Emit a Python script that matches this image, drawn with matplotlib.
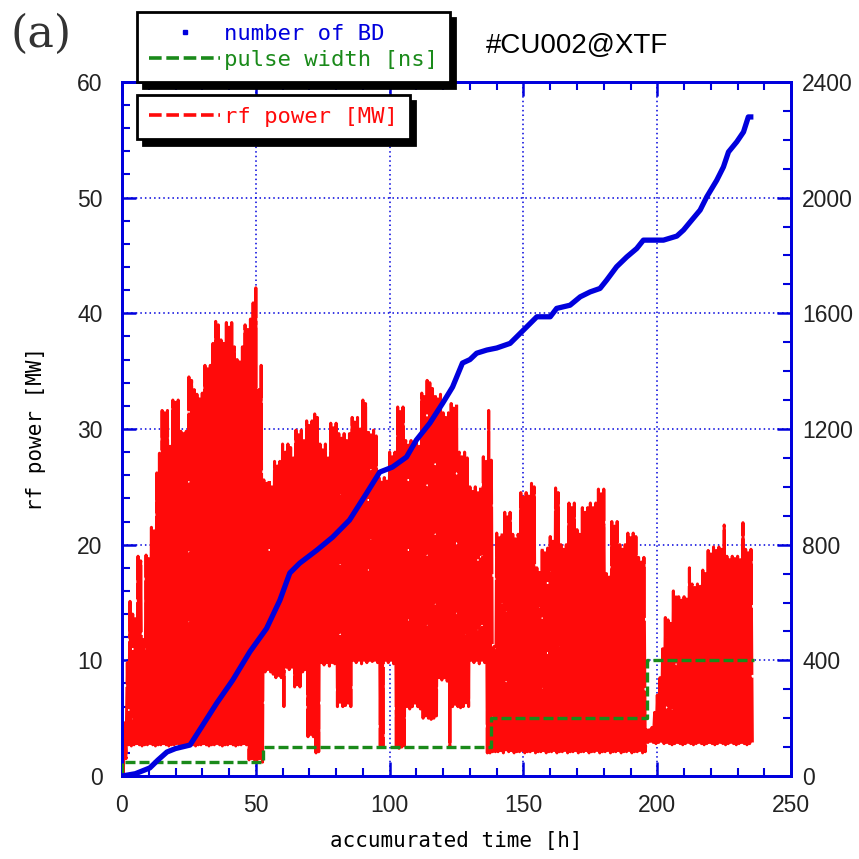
import matplotlib
matplotlib.use("Agg")
import matplotlib.pyplot as plt
from matplotlib.lines import Line2D
from matplotlib.ticker import MultipleLocator
import numpy as np

# rf power trace, hourly upper / lower level [MW]
rf_peak = [
    4.6, 4.6, 9.8, 15.1, 14.0, 13.6, 19.0, 18.6, 11.8, 19.1,
    18.8, 21.5, 21.2, 26.2, 27.9, 31.6, 31.4, 31.6, 28.5, 32.5,
    32.3, 32.5, 29.8, 29.6, 29.8, 34.5, 34.2, 33.4, 33.0, 32.6,
    33.1, 35.5, 35.2, 35.5, 37.4, 39.3, 39.0, 37.7, 37.4, 39.2,
    38.8, 39.2, 37.1, 36.0, 35.8, 37.1, 39.0, 38.6, 39.5, 40.9,
    42.2, 33.4, 35.5, 25.6, 25.3, 25.6, 25.0, 27.2, 26.8, 27.2,
    28.7, 28.0, 28.7, 28.4, 27.5, 29.9, 29.5, 29.9, 29.0, 30.7,
    30.3, 30.7, 31.3, 31.0, 28.7, 28.2, 28.7, 27.5, 30.5, 30.1,
    30.5, 29.6, 29.2, 29.6, 29.0, 29.6, 31.0, 30.6, 31.0, 30.0,
    32.5, 32.2, 29.9, 29.5, 29.9, 29.4, 25.8, 25.4, 25.8, 25.5,
    28.0, 27.6, 28.0, 31.9, 31.5, 31.9, 29.0, 28.6, 29.0, 28.7,
    29.0, 28.5, 33.1, 32.8, 34.2, 34.0, 33.5, 33.0, 32.6, 33.0,
    31.4, 31.0, 31.4, 32.2, 31.8, 32.2, 28.0, 27.6, 28.0, 27.5,
    25.0, 24.6, 25.0, 24.7, 25.0, 27.6, 27.2, 31.6, 27.3, 11.2,
    21.0, 20.6, 21.0, 22.8, 22.4, 22.8, 20.9, 20.5, 20.9, 24.5,
    24.1, 24.5, 24.2, 25.3, 25.0, 18.0, 17.6, 19.7, 19.3, 19.7,
    20.7, 20.3, 24.9, 24.5, 20.0, 19.6, 20.0, 23.6, 23.2, 23.6,
    21.3, 20.9, 23.2, 22.8, 23.2, 23.6, 23.2, 23.6, 24.8, 24.4,
    24.8, 17.5, 17.2, 22.0, 21.6, 22.0, 20.0, 19.6, 20.0, 21.0,
    20.6, 21.0, 20.7, 18.9, 18.5, 18.9, 4.0, 4.0, 4.2, 5.5,
    7.0, 8.5, 11.0, 13.7, 13.5, 13.2, 16.0, 15.7, 15.5, 15.2,
    15.5, 15.3, 18.0, 16.6, 16.3, 16.6, 16.4, 17.8, 17.5, 19.5,
    19.2, 19.8, 19.5, 19.8, 19.6, 21.7, 19.0, 18.7, 19.0, 18.8,
    19.0, 18.7, 21.9, 19.6, 19.3, 19.6,
]
rf_floor = [
    0.3, 1.5, 2.7, 2.6, 2.7, 2.8, 2.7, 2.6, 2.7, 2.7,
    2.8, 2.7, 2.6, 2.7, 2.7, 2.8, 2.7, 2.6, 2.7, 2.7,
    2.8, 2.7, 2.6, 2.7, 2.7, 2.8, 2.7, 2.6, 2.7, 2.7,
    2.8, 2.7, 2.6, 2.7, 2.7, 2.8, 2.7, 2.6, 2.7, 2.7,
    2.8, 2.7, 2.6, 2.7, 2.7, 2.8, 2.7, 1.4, 1.5, 1.4,
    1.4, 1.5, 1.2, 9.0, 9.2, 9.0, 8.8, 8.5, 8.7, 8.5,
    6.0, 9.4, 9.2, 9.4, 7.7, 7.9, 7.7, 9.0, 9.2, 3.4,
    3.6, 3.4, 2.0, 2.1, 9.8, 9.6, 9.8, 9.5, 9.8, 9.7,
    6.0, 6.2, 6.0, 6.1, 6.3, 6.0, 10.0, 9.8, 10.0, 9.7,
    10.0, 9.8, 10.0, 9.9, 10.0, 9.8, 2.5, 2.6, 10.0, 9.8,
    10.0, 9.7, 2.5, 2.4, 2.5, 2.6, 6.0, 5.8, 6.0, 6.3,
    6.0, 5.8, 5.0, 5.2, 5.0, 4.9, 5.0, 5.2, 8.5, 8.3,
    8.5, 8.2, 2.5, 6.0, 6.2, 6.0, 5.9, 6.0, 6.2, 6.0,
    10.0, 9.8, 10.0, 9.7, 10.0, 9.8, 2.0, 2.0, 2.1, 2.1,
    2.1, 2.2, 2.0, 2.1, 2.1, 2.2, 2.0, 2.1, 2.1, 2.2,
    2.0, 2.1, 2.1, 2.2, 2.0, 2.1, 2.1, 2.2, 2.0, 2.1,
    2.1, 2.2, 2.0, 2.1, 2.1, 2.2, 2.0, 2.1, 2.1, 2.2,
    2.0, 2.1, 2.1, 2.2, 2.0, 2.1, 2.1, 2.2, 2.0, 2.1,
    2.1, 2.2, 2.0, 2.1, 2.1, 2.2, 2.0, 2.1, 2.1, 2.2,
    2.0, 2.1, 2.1, 2.2, 2.0, 2.1, 2.9, 3.0, 2.9, 2.8,
    2.9, 3.0, 2.8, 2.9, 2.8, 2.7, 2.8, 2.9, 2.8, 2.7,
    2.8, 2.9, 2.8, 2.7, 2.8, 2.9, 2.8, 2.7, 2.8, 2.9,
    2.8, 2.7, 2.8, 2.9, 2.8, 2.7, 2.8, 2.9, 2.8, 2.7,
    2.8, 2.9, 2.8, 2.7, 2.8, 2.9,
]

# cumulative number of breakdowns
bd_time = [0, 5, 10.4, 13.4, 16.8, 20, 25.4, 29, 35.4, 41.4, 47.8, 54, 59, 62.7,
           66.4, 72.8, 78.7, 85, 91.4, 96.3, 101, 106.3, 110, 115, 119.8, 123.5,
           127.2, 130, 132.5, 136.3, 140, 145, 148.7, 152.5, 155, 160, 162.4,
           167.4, 171.2, 174.9, 178.6, 181.1, 184.8, 188.6, 192.3, 194.8, 202.3,
           207.3, 209.8, 212.3, 216, 218.5, 222.2, 224.7, 226.6, 229.7, 232.2,
           234, 235.9]
bd_count = [0, 8, 28, 55, 83, 95, 107, 159, 252, 332, 430, 510, 608, 702,
            736, 781, 826, 885, 978, 1051, 1068, 1103, 1162, 1220, 1289, 1345,
            1428, 1440, 1462, 1473, 1480, 1496, 1530, 1565, 1588, 1588, 1617,
            1628, 1657, 1674, 1686, 1715, 1761, 1795, 1824, 1853, 1853,
            1867, 1888, 1916, 1957, 2003, 2060, 2106, 2158, 2193, 2227,
            2279, 2279]

# pulse width steps [ns]
pw_time = [0, 0, 52.5, 138, 196, 236]
pw_ns = [10, 50, 100, 200, 400, 400]

BLUE = "#0000dd"
RED = "#ff0a0a"
GREEN = "#1a8a1a"

plt.rcParams["font.family"] = ["Liberation Sans", "DejaVu Sans"]

fig = plt.figure(figsize=(8.59, 8.59), dpi=100)
ax = fig.add_axes([0.142, 0.0966, 0.779, 0.808])
ax2 = ax.twinx()

hours = np.arange(len(rf_peak), dtype=float)
tx = np.column_stack([hours, hours + 0.5]).ravel()
ty = np.column_stack([rf_peak, rf_floor]).ravel()
ax.plot(tx, ty, color=RED, lw=2.2, ls=(0, (22, 0.9)), zorder=2)

ax2.plot(pw_time, pw_ns, color=GREEN, lw=2.4, ls=(0, (3, 1.2)),
         drawstyle="steps-post", zorder=3)
ax2.plot(bd_time, bd_count, color=BLUE, lw=3.8, solid_capstyle="butt", zorder=4)

ax.set_xlim(0, 250)
ax.set_ylim(0, 60)
ax2.set_ylim(0, 2400)

ax.xaxis.set_major_locator(MultipleLocator(50))
ax.xaxis.set_minor_locator(MultipleLocator(10))
ax.yaxis.set_major_locator(MultipleLocator(10))
ax.yaxis.set_minor_locator(MultipleLocator(2))
ax2.yaxis.set_major_locator(MultipleLocator(400))
ax2.yaxis.set_minor_locator(MultipleLocator(100))

ax.grid(True, which="major", color=BLUE, ls=(0, (1, 2)), lw=1.1)
ax.set_axisbelow(True)

for a in (ax, ax2):
    for s in a.spines.values():
        s.set_color(BLUE)
        s.set_linewidth(2)
ax.tick_params(which="both", direction="in", color=BLUE, top=True, right=False,
               labelsize=16.5, labelcolor="#222222")
ax.tick_params(axis="x", pad=13)
ax.tick_params(axis="y", pad=14)
ax.tick_params(which="major", length=10, width=1.8)
ax.tick_params(which="minor", length=6, width=1.5)
ax2.tick_params(which="both", direction="in", color=BLUE, labelsize=16.5,
                labelcolor="#222222", pad=8)
ax2.tick_params(which="major", length=10, width=1.8)
ax2.tick_params(which="minor", length=6, width=1.5)

ax.set_xlabel("accumurated time [h]", family="DejaVu Sans Mono", fontsize=15, labelpad=10)
ax.set_ylabel("rf power [MW]", family="DejaVu Sans Mono", fontsize=15, labelpad=22)

fig.text(0.012, 0.945, "(a)", family="DejaVu Serif", fontsize=32, color="#333333")
fig.text(0.566, 0.938, "#CU002@XTF", fontsize=20)

mono = {"family": "DejaVu Sans Mono", "size": 16}
h_bd = Line2D([], [], ls="none", marker="s", ms=3, color=BLUE)
h_pw = Line2D([], [], color=GREEN, lw=2.6, ls=(0, (3.5, 1.3)))
h_rf = Line2D([], [], color=RED, lw=2.6, ls=(0, (3.5, 1.3)))

shadow = {"color": "black", "alpha": 1.0, "ox": 4, "oy": -4}
leg1 = fig.legend([h_bd, h_pw], ["number of BD", "pulse width [ns]"],
                  loc="upper left", bbox_to_anchor=(0.1595, 0.986), prop=mono,
                  labelcolor=[BLUE, GREEN], handlelength=3.2, handletextpad=0.15,
                  borderpad=0.55, labelspacing=0.25, borderaxespad=0,
                  fancybox=False, framealpha=1, edgecolor="black", shadow=shadow)
leg1.get_frame().set_linewidth(2)
leg2 = fig.legend([h_rf], ["rf power [MW]"],
                  loc="upper left", bbox_to_anchor=(0.1595, 0.8894), prop=mono,
                  labelcolor=[RED], handlelength=3.2, handletextpad=0.15,
                  borderpad=0.55, borderaxespad=0, fancybox=False,
                  framealpha=1, edgecolor="black", shadow=shadow)
leg2.get_frame().set_linewidth(2)

fig.savefig("out.png", dpi=100)
